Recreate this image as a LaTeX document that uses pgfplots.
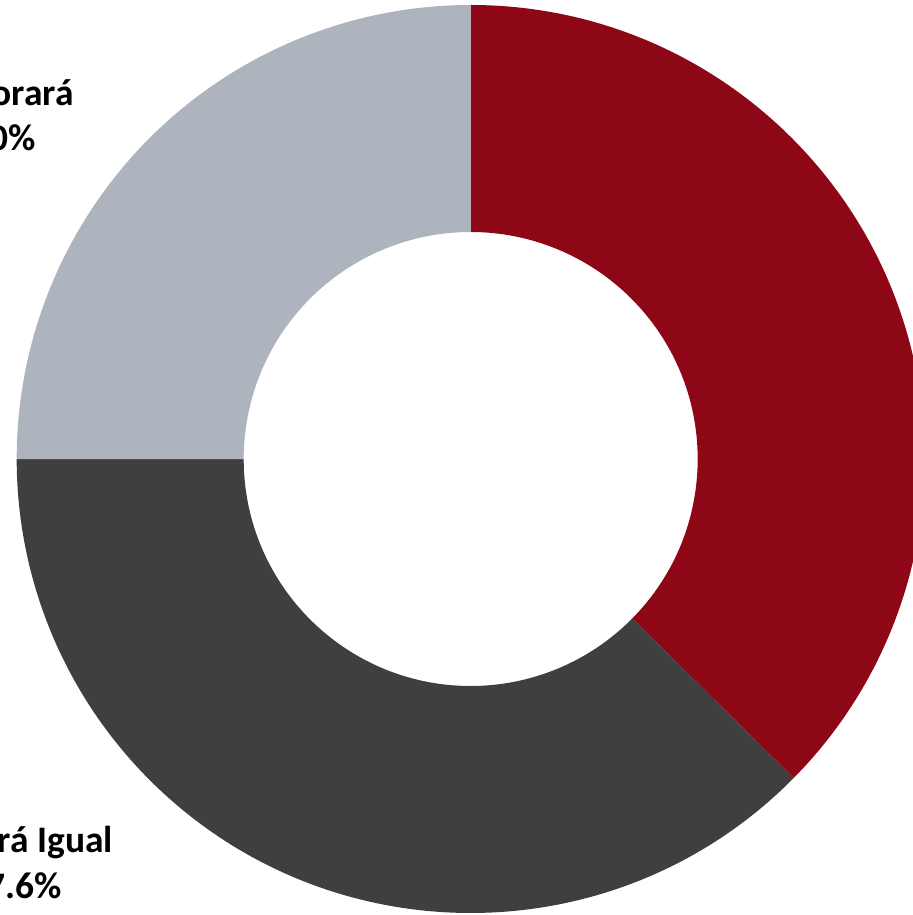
\documentclass[border=0pt]{standalone}
\usepackage{pgfplots}
\pgfplotsset{compat=1.18}
\usepackage{pgfplotstable}
\usepackage{fontspec}
\setmainfont{Carlito}
\definecolor{cRed}{HTML}{8E0716}
\definecolor{cDark}{HTML}{3F3F3F}
\definecolor{cLight}{HTML}{ADB4BE}

% slice values (percent), clockwise from 12 o'clock
\pgfplotstableread{
label value
Mejorara 37.4
SeguiraIgual 37.6
Empeorara 25.0
}\datatable

\begin{document}
\begin{tikzpicture}
\pgfplotstablegetelem{0}{value}\of\datatable \let\va\pgfplotsretval
\pgfplotstablegetelem{1}{value}\of\datatable \let\vb\pgfplotsretval
\pgfplotstablegetelem{2}{value}\of\datatable \let\vc\pgfplotsretval
\pgfmathsetmacro{\aA}{90}
\pgfmathsetmacro{\aB}{\aA-3.6*\va}
\pgfmathsetmacro{\aC}{\aB-3.6*\vb}
\pgfmathsetmacro{\aD}{\aC-3.6*\vc}
\def\Ro{227bp}
\def\Ri{113.5bp}
\begin{axis}[
  hide axis,
  x=0.5bp, y=0.5bp,
  xmin=-470.7, xmax=442.3,
  ymin=-456, ymax=459,
  clip=true,
  anchor=origin, at={(0,0)},
]
\fill[cRed] ([shift={(\aA:\Ro)}]axis cs:0,0) arc[start angle=\aA, end angle=\aB, radius=\Ro]
  -- ([shift={(\aB:\Ri)}]axis cs:0,0) arc[start angle=\aB, end angle=\aA, radius=\Ri] -- cycle;
\fill[cDark] ([shift={(\aB:\Ro)}]axis cs:0,0) arc[start angle=\aB, end angle=\aC, radius=\Ro]
  -- ([shift={(\aC:\Ri)}]axis cs:0,0) arc[start angle=\aC, end angle=\aB, radius=\Ri] -- cycle;
\fill[cLight] ([shift={(\aC:\Ro)}]axis cs:0,0) arc[start angle=\aC, end angle=\aD, radius=\Ro]
  -- ([shift={(\aD:\Ri)}]axis cs:0,0) arc[start angle=\aD, end angle=\aC, radius=\Ri] -- cycle;

\begin{scope}[every node/.style={anchor=base, inner sep=0pt, font=\fontsize{18.8pt}{22.9pt}\selectfont\bfseries}]
\node at (axis cs:-481.7,354) {Empeorará};
\node at (axis cs:-481.7,308) {25.0\%};
\node at (axis cs:-457.2,-393) {Seguirá Igual};
\node at (axis cs:-455.7,-439) {37.6\%};
\end{scope}
\coordinate (SW) at (rel axis cs:0,0);
\coordinate (NE) at (rel axis cs:1,1);
\end{axis}
\pgfresetboundingbox
\useasboundingbox (SW) rectangle (NE);
\end{tikzpicture}
\end{document}
